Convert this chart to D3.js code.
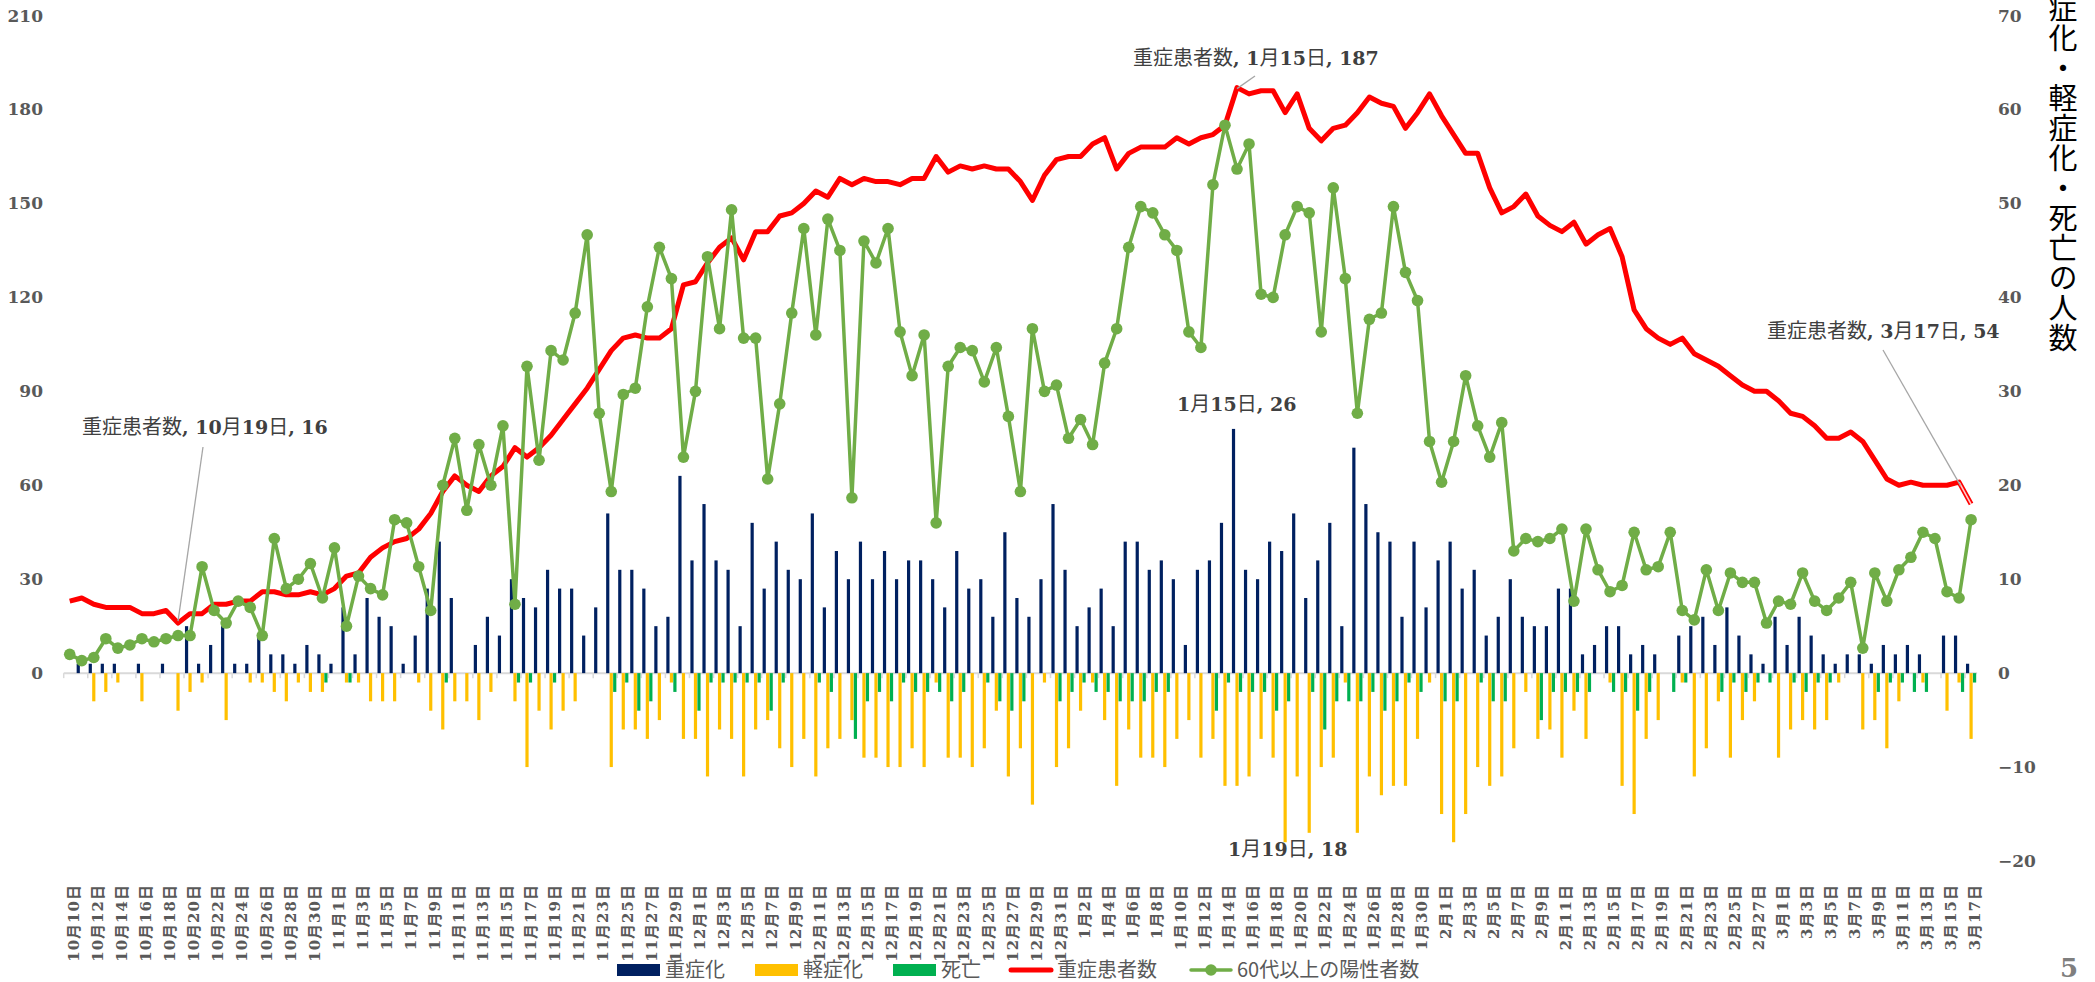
<!DOCTYPE html>
<html>
<head>
<meta charset="utf-8">
<script src="https://cdn.jsdelivr.net/npm/d3@7"></script>
<style>
  body { margin: 0; background: #fff; }
  svg { display: block; }
</style>
</head>
<body>
<div id="chart"></div>
<script>
const width = 2095;
const height = 982;

// month, first day, last day shown
const months = [[10, 10, 31], [11, 1, 30], [12, 1, 31], [1, 1, 31], [2, 1, 28], [3, 1, 17]];
const dates = months.flatMap(([m, a, b]) => d3.range(a, b + 1).map(d => `${m}月${d}日`));

// 重症患者数 (left axis)
const severe = [
  23,24,22,21,21,21,19,19,20,16,
  19,19,22,22,23,23,26,26,25,25,
  26,25,27,31,32,37,40,42,43,46,
  51,58,63,60,58,63,66,72,69,72,
  76,81,86,91,97,103,107,108,107,107,
  110,124,125,131,136,139,132,141,141,146,
  147,150,154,152,158,156,158,157,157,156,
  158,158,165,160,162,161,162,161,161,157,
  151,159,164,165,165,169,171,161,166,168,
  168,168,171,169,171,172,175,187,185,186,
  186,179,185,174,170,174,175,179,184,182,
  181,174,179,185,178,172,166,166,155,147,
  149,153,146,143,141,144,137,140,142,133,
  116,110,107,105,107,102,100,98,95,92,
  90,90,87,83,82,79,75,75,77,74,
  68,62,60,61,60,60,60,61,54
];

// 60代以上の陽性者数 (left axis)
const over60 = [
  6,4,5,11,8,9,11,10,11,12,
  12,34,20,16,23,21,12,43,27,30,
  35,24,40,15,31,27,25,49,48,34,
  20,60,75,52,73,60,79,22,98,68,
  103,100,115,140,83,58,89,91,117,136,
  126,69,90,133,110,148,107,107,62,86,
  115,142,108,145,135,56,138,131,142,109,
  95,108,48,98,104,103,93,104,82,58,
  110,90,92,75,81,73,99,110,136,149,
  147,140,135,109,104,156,175,161,169,121,
  120,140,149,147,109,155,126,83,113,115,
  149,128,119,74,61,74,95,79,69,80,
  39,43,42,43,46,23,46,33,26,28,
  45,33,34,45,20,17,33,20,32,29,
  29,16,23,22,32,23,20,24,29,8,
  32,23,33,37,45,43,26,24,49
];

// 重症化 (right axis)
const jushoka = [
  0,1,1,1,1,0,1,0,1,0,
  5,1,3,5,1,1,4,2,2,1,
  3,2,1,7,2,8,6,5,1,4,
  9,14,8,0,3,6,4,10,8,7,
  11,9,9,4,7,17,11,11,9,5,
  6,21,12,18,12,11,5,16,9,14,
  11,10,17,7,13,10,14,10,13,10,
  12,12,10,7,13,9,10,6,15,8,
  6,10,18,11,5,7,9,5,14,14,
  11,12,10,3,11,12,16,26,11,10,
  14,13,17,8,12,16,5,24,18,15,
  14,6,14,7,12,14,9,11,4,6,
  10,6,5,5,9,9,2,3,5,5,
  2,3,2,0,4,5,6,3,7,4,
  2,1,6,3,6,4,2,1,2,2,
  1,3,2,3,2,0,4,4,1
];

// 軽症化 (right axis, drawn below zero)
const keishoka = [
  0,0,-3,-2,-1,0,-3,0,0,-4,
  -2,-1,0,-5,0,-1,-1,-2,-3,-1,
  -2,-2,0,-1,-1,-3,-3,-3,0,-1,
  -4,-6,-3,-3,-5,-2,0,-3,-10,-4,
  -6,-4,-3,0,0,-10,-6,-6,-7,-5,
  -1,-7,-7,-11,-6,-7,-11,-6,-5,-8,
  -10,-7,-11,-8,-7,-5,-9,-9,-10,-10,
  -8,-10,-1,-9,-9,-10,-8,-4,-11,-8,
  -14,-1,-10,-8,-4,-1,-5,-12,-6,-9,
  -9,-10,-7,-5,-9,-7,-12,-12,-11,-7,
  -9,-18,-11,-17,-10,-9,-1,-17,-11,-13,
  -12,-12,-7,-1,-15,-18,-15,-10,-12,-11,
  -8,-2,-7,-6,-9,-4,-7,0,-1,-12,
  -15,-7,-5,0,-1,-11,-8,-3,-9,-5,
  -3,0,-9,-6,-5,-6,-5,-1,0,-6,
  -5,-8,-3,0,-1,0,-4,-1,-7
];

// 死亡 (right axis, drawn below zero)
const shibou = [
  0,0,0,0,0,0,0,0,0,0,
  0,0,0,0,0,0,0,0,0,0,
  0,-1,0,-1,0,0,0,0,0,0,
  0,-1,0,0,0,0,0,-1,-1,0,
  -1,0,0,0,0,-2,-1,-4,-3,0,
  -2,0,-4,-1,-1,-1,-1,-1,-4,-1,
  0,0,-1,-2,0,-7,-3,-2,-3,-1,
  -2,-2,-2,-3,-2,0,-1,-3,-4,-3,
  0,0,-3,-2,-1,-2,-2,-3,-3,-3,
  -2,-2,0,0,0,-4,-1,-2,-2,-2,
  -4,-3,0,-2,-6,-3,-3,-3,-2,-4,
  -3,-1,-2,0,-3,-3,0,-1,-3,-3,
  0,0,-5,-2,-2,-2,-2,0,-2,-2,
  -4,-2,0,-2,-1,0,0,-2,-1,-2,
  -1,-1,0,-1,-2,-1,-1,0,0,0,
  -2,-1,-1,-2,-2,0,0,-2,-1
];

const leftTicks = [0, 30, 60, 90, 120, 150, 180, 210];
const rightTicks = [-20, -10, 0, 10, 20, 30, 40, 50, 60, 70];

const colors = {
  jushoka: "#002060",
  keishoka: "#FFC000",
  shibou: "#00B050",
  severe: "#FF0000",
  over60: "#70AD47"
};

const svg = d3.select("#chart").append("svg")
    .attr("width", width)
    .attr("height", height);

svg.append("rect")
    .attr("width", width)
    .attr("height", height)
    .attr("fill", "#fff");

const xScale = d3.scaleBand()
    .domain(dates)
    .range([63.7, 1977.1]);

const cx = d => xScale(d) + xScale.bandwidth() / 2;

const yLeft = d3.scaleLinear()
    .domain([-60, 210])
    .range([861, 15.6]);

const yRight = d3.scaleLinear()
    .domain([-20, 70])
    .range([861, 15.6]);

// zero line + category ticks
svg.append("line")
    .attr("x1", xScale.range()[0])
    .attr("x2", xScale.range()[1])
    .attr("y1", yRight(0))
    .attr("y2", yRight(0))
    .attr("stroke", "#d9d9d9")
    .attr("stroke-width", 2);

svg.append("g")
    .selectAll("line")
    .data(dates.filter((d, i) => i % 2 === 0))
    .join("line")
      .attr("x1", d => xScale(d))
      .attr("x2", d => xScale(d))
      .attr("y1", yRight(0))
      .attr("y2", yRight(0) + 5)
      .attr("stroke", "#d9d9d9")
      .attr("stroke-width", 1.5);

// clustered bars
const barSeries = [
  { key: "重症化", values: jushoka, color: colors.jushoka },
  { key: "軽症化", values: keishoka, color: colors.keishoka },
  { key: "死亡", values: shibou, color: colors.shibou }
];

const sub = d3.scaleBand()
    .domain(barSeries.map(s => s.key))
    .range([0, xScale.bandwidth()])
    .paddingOuter(0.22);

svg.append("g")
    .selectAll("g")
    .data(barSeries)
    .join("g")
      .attr("fill", s => s.color)
    .selectAll("rect")
    .data(s => s.values.map((v, i) => ({ key: s.key, date: dates[i], v: v })).filter(d => d.v !== 0))
    .join("rect")
      .attr("x", d => xScale(d.date) + sub(d.key) + 0.15)
      .attr("width", sub.bandwidth() - 0.3)
      .attr("y", d => yRight(Math.max(0, d.v)))
      .attr("height", d => Math.abs(yRight(d.v) - yRight(0)));

// 重症患者数 line
const line = d3.line()
    .x((d, i) => cx(dates[i]))
    .y(d => yLeft(d));

svg.append("path")
    .datum(severe)
    .attr("fill", "none")
    .attr("stroke", colors.severe)
    .attr("stroke-width", 5)
    .attr("stroke-linejoin", "round")
    .attr("d", line);

// last segment is shown hollow in the original
const n = dates.length;
const lastSeg = d3.line()
    .x(d => cx(d.date))
    .y(d => yLeft(d.v));

svg.append("path")
    .datum([{ date: dates[n - 2], v: severe[n - 2] }, { date: dates[n - 1], v: severe[n - 1] }])
    .attr("fill", "none")
    .attr("stroke", "#fff")
    .attr("stroke-opacity", 0.8)
    .attr("stroke-width", 1.6)
    .attr("d", lastSeg);

// 60代以上 line + markers
svg.append("path")
    .datum(over60)
    .attr("fill", "none")
    .attr("stroke", colors.over60)
    .attr("stroke-width", 3.5)
    .attr("stroke-linejoin", "round")
    .attr("d", line);

svg.append("g")
    .selectAll("circle")
    .data(over60)
    .join("circle")
      .attr("cx", (d, i) => cx(dates[i]))
      .attr("cy", d => yLeft(d))
      .attr("r", 5.8)
      .attr("fill", colors.over60);

// axes
const axisFont = g => g
    .attr("font-family", "'DejaVu Serif', serif")
    .attr("font-weight", "bold")
    .attr("font-size", 17);

const yAxisL = svg.append("g")
    .attr("transform", "translate(51,0)")
    .call(d3.axisLeft(yLeft).tickValues(leftTicks).tickSize(0).tickPadding(8))
    .call(axisFont);

const yAxisR = svg.append("g")
    .attr("transform", "translate(1990,0)")
    .call(d3.axisRight(yRight).tickValues(rightTicks).tickSize(0).tickPadding(8))
    .call(axisFont);

[yAxisL, yAxisR].forEach(a => {
  a.select(".domain").remove();
  a.selectAll(".tick text").attr("fill", "#595959");
});

// category labels (every other day)
svg.append("g")
    .selectAll("text")
    .data(dates.filter((d, i) => i % 2 === 0))
    .join("text")
      .attr("transform", d => `translate(${cx(d) + 4},884) rotate(-90)`)
      .attr("text-anchor", "end")
      .attr("dy", "0.35em")
      .attr("font-family", "'DejaVu Serif', 'Noto Sans CJK JP', serif")
      .attr("font-weight", "bold")
      .attr("font-size", 15)
      .attr("letter-spacing", 1)
      .attr("fill", "#595959")
      .text(d => d);

// right axis title (top character falls off the page as in the original)
svg.append("text")
    .attr("x", 2063)
    .attr("y", -37)
    .style("writing-mode", "vertical-rl")
    .attr("font-family", "'Noto Sans CJK JP', sans-serif")
    .attr("font-size", 29)
    .attr("letter-spacing", 1)
    .attr("fill", "#000")
    .text("重症化・軽症化・死亡の人数");

// page number
svg.append("text")
    .attr("x", 2069)
    .attr("y", 977)
    .attr("text-anchor", "middle")
    .attr("font-family", "'DejaVu Serif', serif")
    .attr("font-weight", "bold")
    .attr("font-size", 26)
    .attr("fill", "#7f7f7f")
    .text("5");

// data labels
function richText(str, x, y) {
  const t = svg.append("text")
      .attr("x", x)
      .attr("y", y)
      .attr("fill", "#404040");
  str.split(/([0-9,\s]+)/).filter(s => s.length).forEach(part => {
    const num = /^[0-9,\s]+$/.test(part);
    t.append("tspan")
        .attr("font-family", num ? "'DejaVu Serif', serif" : "'Noto Sans CJK JP', sans-serif")
        .attr("font-weight", num ? "bold" : "normal")
        .attr("font-size", num ? 19 : 20)
        .text(part);
  });
}

function leader(x1, y1, x2, y2) {
  svg.append("line")
      .attr("x1", x1).attr("y1", y1)
      .attr("x2", x2).attr("y2", y2)
      .attr("stroke", "#a6a6a6")
      .attr("stroke-width", 1.3);
}

const iOct19 = dates.indexOf("10月19日");
const iJan15 = dates.indexOf("1月15日");
const iJan19 = dates.indexOf("1月19日");
const iMar17 = dates.indexOf("3月17日");

richText(`重症患者数, ${dates[iOct19]}, ${severe[iOct19]}`, 82, 434);
leader(203, 447, cx(dates[iOct19]), yLeft(severe[iOct19]) - 2);

richText(`重症患者数, ${dates[iJan15]}, ${severe[iJan15]}`, 1133, 65);
leader(1255, 76, cx(dates[iJan15]), yLeft(severe[iJan15]) + 1);

richText(`重症患者数, ${dates[iMar17]}, ${severe[iMar17]}`, 1767, 338);
{
  const sx = 1883, sy = 350;
  const ex = cx(dates[iMar17]), ey = yLeft(severe[iMar17]);
  leader(sx, sy, sx + (ex - sx) * 0.88, sy + (ey - sy) * 0.88);
}

richText(`${dates[iJan15]}, ${jushoka[iJan15]}`, 1177, 411);
richText(`${dates[iJan19]}, ${-keishoka[iJan19]}`, 1228, 856);

// legend
const legendItems = [
  { label: "重症化", type: "rect", color: colors.jushoka, x: 617 },
  { label: "軽症化", type: "rect", color: colors.keishoka, x: 755 },
  { label: "死亡", type: "rect", color: colors.shibou, x: 893 },
  { label: "重症患者数", type: "line", color: colors.severe, x: 1009 },
  { label: "60代以上の陽性者数", type: "marker", color: colors.over60, x: 1189 }
];

const legendY = 970;
const legend = svg.append("g")
    .selectAll("g")
    .data(legendItems)
    .join("g")
      .attr("transform", d => `translate(${d.x},${legendY})`);

legend.filter(d => d.type === "rect")
    .append("rect")
      .attr("y", -6)
      .attr("width", 43)
      .attr("height", 12)
      .attr("fill", d => d.color);

legend.filter(d => d.type !== "rect")
    .append("line")
      .attr("x1", 2)
      .attr("x2", 42)
      .attr("stroke", d => d.color)
      .attr("stroke-width", d => d.type === "line" ? 5 : 3.5)
      .attr("stroke-linecap", "round");

legend.filter(d => d.type === "marker")
    .append("circle")
      .attr("cx", 22)
      .attr("r", 5.8)
      .attr("fill", d => d.color);

legend.append("text")
    .attr("x", 48)
    .attr("dy", "0.36em")
    .attr("font-family", "'Noto Sans CJK JP', sans-serif")
    .attr("font-size", 20)
    .attr("fill", "#595959")
    .text(d => d.label);
</script>
</body>
</html>
